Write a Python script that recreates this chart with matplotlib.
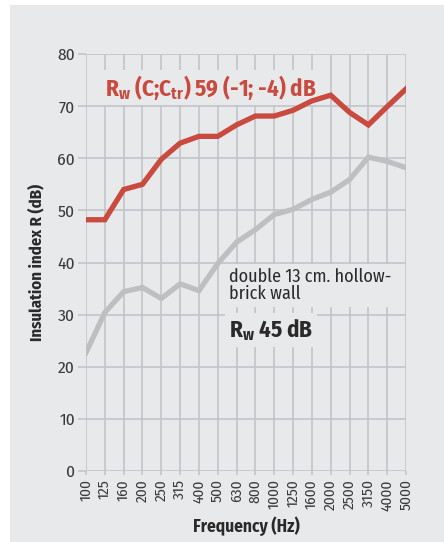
import numpy as np
import matplotlib
matplotlib.use('Agg')
import matplotlib.pyplot as plt
from matplotlib import font_manager as fm
from matplotlib.patches import Rectangle

freqs = ['100', '125', '160', '200', '250', '315', '400', '500', '630', '800',
         '1000', '1250', '1600', '2000', '2500', '3150', '4000', '5000']
r_red = [48.2, 48.2, 54.0, 55.0, 59.8, 62.9, 64.2, 64.2, 66.4, 68.1,
         68.1, 69.2, 71.0, 72.1, 68.8, 66.4, 69.9, 73.3]
r_gray = [22.7, 30.4, 34.4, 35.2, 33.1, 35.9, 34.6, 39.8, 43.9, 46.3,
          49.2, 50.2, 52.1, 53.5, 55.9, 60.2, 59.4, 58.2]
yticks = [0, 10, 20, 30, 40, 50, 60, 70, 80]

bg = '#e8e9eb'
grid = '#c3c4c7'
red = '#c94a3e'
gray = '#bebfc1'
txt = '#2a2a2a'

# pick a condensed sans if one is installed
cond = 'DejaVu Sans'
for name in ['Fira Sans Condensed', 'Roboto Condensed', 'PT Sans Narrow',
             'Archivo Narrow', 'Encode Sans Condensed', 'IBM Plex Sans Condensed',
             'Open Sans Condensed', 'Barlow Semi Condensed']:
    try:
        fm.findfont(name, fallback_to_default=False)
        cond = name
        break
    except ValueError:
        pass

plt.rcParams['font.family'] = [cond, 'DejaVu Sans']
plt.rcParams['mathtext.fontset'] = 'custom'
plt.rcParams['mathtext.rm'] = cond
plt.rcParams['mathtext.bf'] = cond + ':bold'

fig = plt.figure(figsize=(4.44, 5.42), dpi=100)
panel = Rectangle((10/444, 0), 1, 1 - 5/542, transform=fig.transFigure,
                  facecolor=bg, edgecolor='none', zorder=-10)
fig.add_artist(panel)
ax = fig.add_axes([86/444, 1 - 471/542, 320/444, 417/542])
ax.set_zorder(1)
ax.set_facecolor(bg)

x = np.arange(len(freqs))
ax.set_xlim(0, len(freqs) - 1)
ax.set_ylim(0, 80)
ax.set_xticks(x)
ax.set_xticklabels(freqs, rotation=90, fontsize=11, color='#3a3a3a')
ax.set_yticks(yticks)
ax.set_yticklabels([str(v) for v in yticks], fontsize=12.5, color='#3a3a3a')
ax.grid(True, color=grid, linewidth=1.2, zorder=1)
for s in ax.spines.values():
    s.set_visible(False)
ax.tick_params(axis='y', length=6, color=grid, width=1.2, pad=2)
ax.tick_params(axis='x', length=3, color=grid, width=1.2, pad=3)

ax.plot(x, r_gray, color=gray, lw=3.8, zorder=3, solid_joinstyle='miter')
ax.plot(x, r_red, color=red, lw=3.8, zorder=3, solid_joinstyle='miter')

# label boxes only hide the grid, the curves stay on top
ax.text(1.0, 73.6, r'R$_{\mathbf{w}}$ (C;C$_{\mathbf{tr}}$) 59 (-1; -4) dB', color=red,
        fontsize=16.5, fontweight='bold', va='center', ha='left', zorder=2,
        bbox=dict(facecolor=bg, edgecolor='none', pad=2))
ax.text(7.6, 35.6, 'double 13 cm. hollow-\nbrick wall', color=txt, fontsize=13,
        va='center', ha='left', linespacing=0.95, zorder=2,
        bbox=dict(facecolor=bg, edgecolor='none', pad=3))
ax.text(7.6, 27.0, r'R$_{\mathbf{w}}$ 45 dB', color=txt, fontsize=16.5,
        fontweight='bold', va='center', ha='left', zorder=2,
        bbox=dict(facecolor=bg, edgecolor='none', pad=3))

ax.set_ylabel('Insulation index R (dB)', fontsize=12, fontweight='bold', color=txt, labelpad=9)
ax.set_xlabel('Frequency (Hz)', fontsize=12.5, fontweight='bold', color=txt, labelpad=4)

fig.savefig('out.png', dpi=100, facecolor='white')
